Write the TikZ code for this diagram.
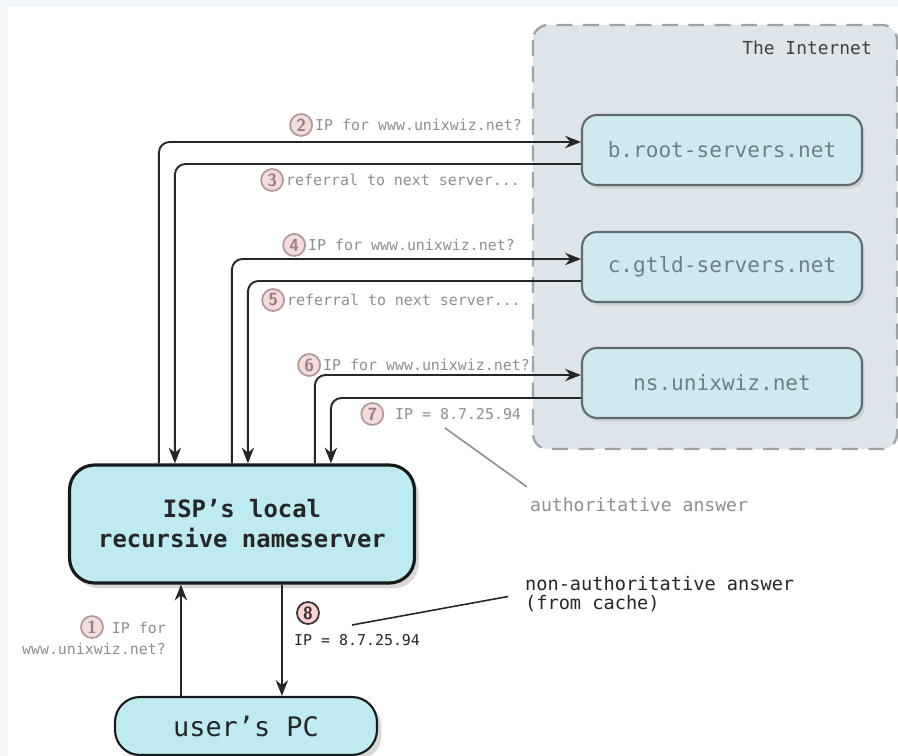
\documentclass[tikz,border=0pt]{standalone}
\usepackage{fontspec}
\setmonofont{DejaVu Sans Mono}
\usetikzlibrary{positioning,shadows,arrows.meta}

\definecolor{framebg}{HTML}{F3F7FA}
\definecolor{netfill}{HTML}{DDE4EA}
\definecolor{netline}{HTML}{9EA3A8}
\definecolor{srvfill}{HTML}{CFEAEE}
\definecolor{srvline}{HTML}{5E6B6F}
\definecolor{srvtext}{HTML}{6E7E84}
\definecolor{ispfill}{HTML}{BEEBEF}
\definecolor{lbltext}{HTML}{8E8E8E}
\definecolor{badgefill}{HTML}{F4DCDC}
\definecolor{badgeline}{HTML}{B39A9A}
\definecolor{badgetext}{HTML}{9B7F7F}

\begin{document}
\begin{tikzpicture}[x=0.02cm, y=-0.02cm,
    server/.style={draw=srvline, line width=1.2pt, fill=srvfill, rounded corners=0.3cm,
      minimum width=5.6cm, minimum height=1.4cm, text=srvtext,
      font=\ttfamily\fontsize{12}{14}\selectfont,
      drop shadow={opacity=0.18, shadow xshift=1.5pt, shadow yshift=-2pt}},
    host/.style={draw=black!90, fill=ispfill, rounded corners=0.5cm, text=black!85,
      drop shadow={opacity=0.3, shadow xshift=2.5pt, shadow yshift=-3pt}},
    msg/.style={inner sep=1pt, text=lbltext, font=\ttfamily\fontsize{8.5}{12}\selectfont},
    badge/.style={circle, draw=badgeline, line width=1pt, fill=badgefill, text=badgetext,
      minimum size=0.44cm, inner sep=0pt, font=\sffamily\bfseries\fontsize{10}{10}\selectfont},
    flow/.style={draw=black!85, line width=1.1pt, rounded corners=6pt,
      -{Stealth[length=9pt,width=7pt]}},
    remark/.style={inner sep=1pt, align=left}]

  \useasboundingbox (0,0) rectangle (898,756);
  \fill[framebg] (0,0) rectangle (898,756);
  \fill[white] (8,7) rectangle (898,756);

  % the internet region
  \draw[netline, fill=netfill, line width=1.3pt, rounded corners=0.3cm,
        dash pattern=on 9pt off 6pt] (533,25) rectangle (897,449);
  \node[anchor=east, text=black!75, font=\ttfamily\fontsize{10.2}{12}\selectfont]
       at (878,48) (inet) {The Internet};

  % servers
  \node[server] at (722,150) (root) {b.root-servers.net};
  \node[server] at (722,267) (gtld) {c.gtld-servers.net};
  \node[server] at (722,383) (ns)   {ns.unixwiz.net};

  % local side
  \node[host, line width=1.8pt, minimum width=6.9cm, minimum height=2.36cm, align=center,
        font=\ttfamily\bfseries\fontsize{13.6}{17}\selectfont]
       at (242,524) (isp) {ISP’s local\\recursive nameserver};
  \node[host, line width=1.2pt, minimum width=5.24cm, minimum height=1.16cm,
        font=\ttfamily\fontsize{15.3}{17}\selectfont]
       at (246,726) (pc) {user’s PC};

  % queries and answers
  \draw[flow] ([xshift=1.82cm]isp.north west) |- ([yshift=0.16cm]root.west);
  \draw[flow] ([yshift=-0.28cm]root.west) -| ([xshift=2.14cm]isp.north west);
  \draw[flow] ([xshift=3.28cm]isp.north west) |- ([yshift=0.16cm]gtld.west);
  \draw[flow] ([yshift=-0.28cm]gtld.west) -| ([xshift=3.6cm]isp.north west);
  \draw[flow] ([xshift=4.94cm]isp.north west) |- ([yshift=0.16cm]ns.west);
  \draw[flow] ([yshift=-0.3cm]ns.west) -| ([xshift=5.26cm]isp.north west);
  \draw[flow] ([xshift=1.34cm]pc.north west) coordinate (up1) -- (up1 |- isp.south);
  \draw[flow] ([xshift=4.28cm]isp.south west) coordinate (dn8) -- (dn8 |- pc.north);

  % step labels
  \node[msg, anchor=west] at (313,125) (l2) {IP for www.unixwiz.net?};
  \node[badge, left=0pt of l2] (b2) {2};
  \node[msg, anchor=west] at (284,180) (l3) {referral to next server...};
  \node[badge, left=0pt of l3] (b3) {3};
  \node[msg, anchor=west] at (306,245) (l4) {IP for www.unixwiz.net?};
  \node[badge, left=0pt of l4] (b4) {4};
  \node[msg, anchor=west] at (285,300) (l5) {referral to next server...};
  \node[badge, left=0pt of l5] (b5) {5};
  \node[msg, anchor=west] at (321,365) (l6) {IP for www.unixwiz.net?};
  \node[badge, left=0pt of l6] (b6) {6};
  \node[msg, anchor=west] at (393,414) (l7) {IP = 8.7.25.94};
  \node[badge, left=5pt of l7] (b7) {7};
  \node[msg, anchor=east, align=right] at (168,638) (l1) {IP for\\www.unixwiz.net?};
  \node[badge] at (92,627) (b1) {1};
  \node[msg, anchor=west, text=black!85] at (292,640) (l8) {IP = 8.7.25.94};
  \node[badge, draw=black!80, fill=badgefill!70!red!45, text=black!80] at (308,613) (b8) {8};

  % remarks
  \node[remark, anchor=west, text=lbltext, font=\ttfamily\fontsize{10.3}{12}\selectfont]
       at (528,505) (auth) {authoritative answer};
  \node[remark, anchor=west, text=black!85, font=\ttfamily\fontsize{10.6}{10.6}\selectfont]
       at (523,594) (cache) {non-authoritative answer\\(from cache)};
  \coordinate (p7) at (445,428);
  \coordinate (p8) at (352,625);
  \draw[lbltext, line width=0.9pt] (p7) -- ([xshift=-0.02cm,yshift=0.18cm]auth.north west);
  \draw[black!85, line width=0.9pt] (p8) -- ([xshift=-0.3cm,yshift=-0.05cm]cache.west);
\end{tikzpicture}
\end{document}
